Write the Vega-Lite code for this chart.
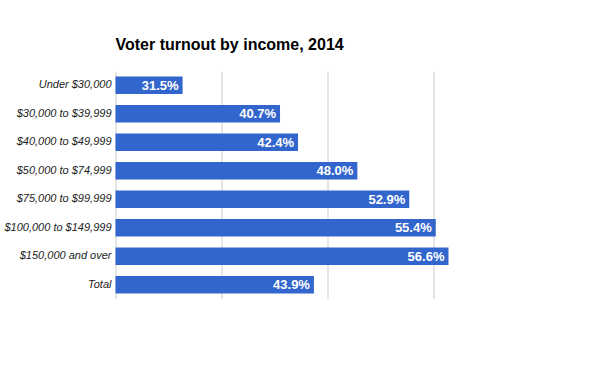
{
  "$schema": "https://vega.github.io/schema/vega-lite/v6.json",
  "autosize": "none",
  "width": 369,
  "height": 228,
  "padding": {"left": 115.5, "top": 71, "right": 0, "bottom": 0},
  "background": "white",
  "title": {
    "text": "Voter turnout by income, 2014",
    "anchor": "start",
    "frame": "group",
    "font": "Liberation Sans",
    "fontSize": 16,
    "fontWeight": "bold",
    "color": "#000000",
    "baseline": "alphabetic",
    "offset": 5
  },
  "data": {
    "values": [
      {"income": "Under $30,000", "turnout": 0.315},
      {"income": "$30,000 to $39,999", "turnout": 0.407},
      {"income": "$40,000 to $49,999", "turnout": 0.424},
      {"income": "$50,000 to $74,999", "turnout": 0.480},
      {"income": "$75,000 to $99,999", "turnout": 0.529},
      {"income": "$100,000 to $149,999", "turnout": 0.554},
      {"income": "$150,000 and over", "turnout": 0.566},
      {"income": "Total", "turnout": 0.439}
    ]
  },
  "encoding": {
    "y": {
      "field": "income",
      "type": "nominal",
      "sort": null,
      "scale": {"paddingInner": 0.38, "paddingOuter": 0.19},
      "axis": {
        "title": null,
        "domain": false,
        "ticks": false,
        "labelFont": "Liberation Sans",
        "labelFontSize": 11,
        "labelFontStyle": "italic",
        "labelColor": "#222222",
        "labelPadding": 4.5
      }
    },
    "x": {
      "field": "turnout",
      "type": "quantitative",
      "scale": {"domain": [0.2517, 0.60], "zero": false, "clamp": true, "nice": false},
      "axis": {
        "title": null,
        "labels": false,
        "ticks": false,
        "domain": false,
        "values": [0.2517, 0.3517, 0.4517, 0.5517],
        "grid": true,
        "gridColor": "#cccccc",
        "gridWidth": 1
      }
    }
  },
  "layer": [
    {
      "mark": {"type": "bar", "color": "#3366cc"}
    },
    {
      "mark": {
        "type": "text",
        "align": "right",
        "baseline": "middle",
        "dx": -4,
        "dy": 0.5,
        "font": "Liberation Sans",
        "fontSize": 13,
        "fontWeight": "bold",
        "color": "#ffffff"
      },
      "encoding": {
        "text": {"field": "turnout", "type": "quantitative", "format": ".1%"}
      }
    }
  ],
  "config": {
    "view": {"stroke": null},
    "axis": {"gridOpacity": 1}
  }
}
